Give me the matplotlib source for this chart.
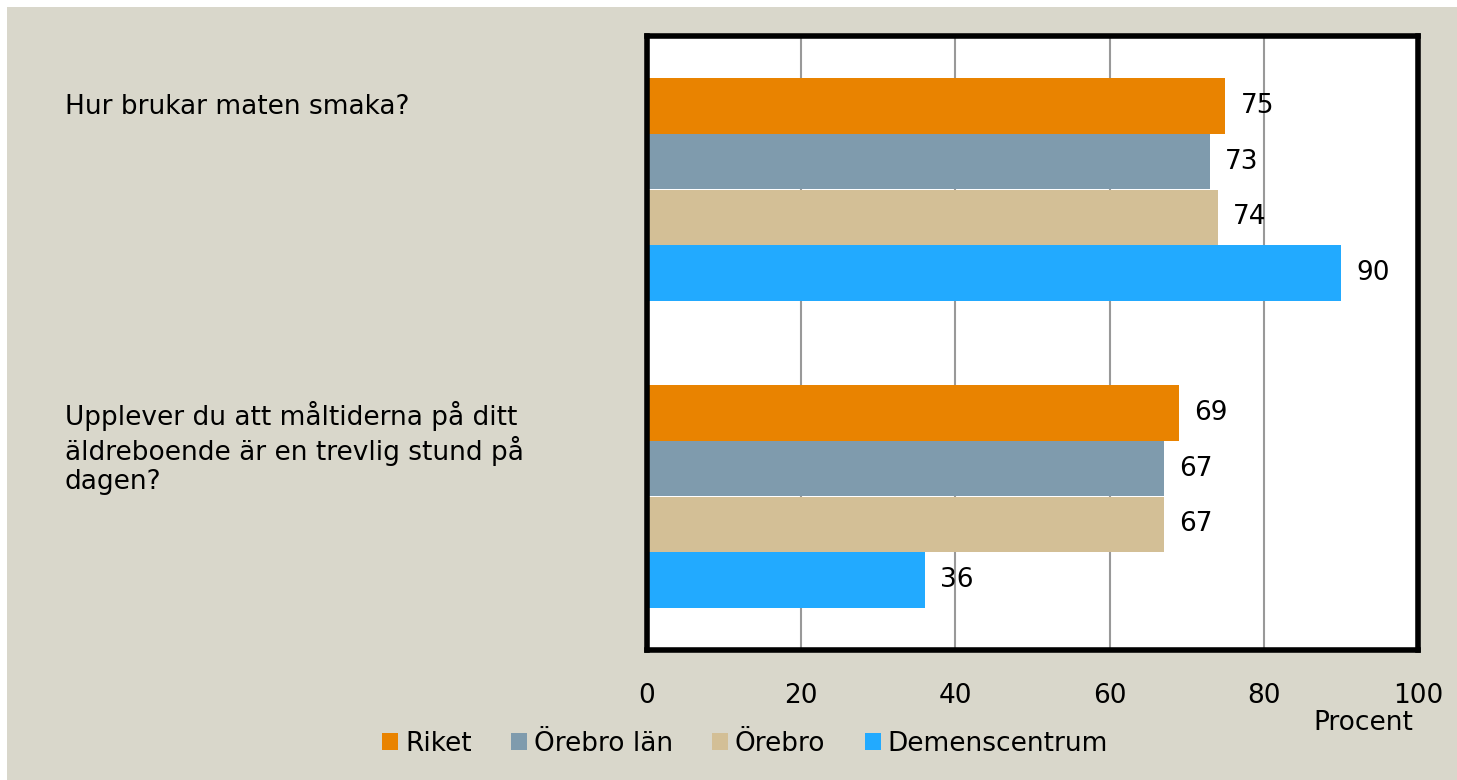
import matplotlib
matplotlib.use("Agg")
import matplotlib.pyplot as plt
import matplotlib.transforms as mtransforms
from matplotlib.patches import Rectangle
import numpy as np

plt.rcParams.update({
    "font.family": ["DejaVu Sans"],
    "font.size": 19,
})

# ── Data ──────────────────────────────────────────────────────────────────────
questions = [
    "Hur brukar maten smaka?",
    "Upplever du att måltiderna på ditt\näldreboende är en trevlig stund på\ndagen?",
]
series_names = ["Riket", "Örebro län", "Örebro", "Demenscentrum"]
riket = [75, 69]
orebro_lan = [73, 67]
orebro = [74, 67]
demenscentrum = [90, 36]
colors = ["#E98300", "#7F9BAD", "#D3BF96", "#22AAFF"]
x_ticks = [0, 20, 40, 60, 80, 100]

BG = "#D9D7CB"
FS = 19

fig = plt.figure(figsize=(14.57, 7.80), dpi=100, facecolor="white")
fig.patches.append(Rectangle((7 / 1457, 0), 1 - 7 / 1457, 1 - 7 / 780,
                             transform=fig.transFigure, facecolor=BG,
                             edgecolor="none", zorder=-10))

ax = fig.add_axes([647 / 1457, 1 - 650 / 780, (1418 - 647) / 1457, (650 - 36) / 780])
ax.set_facecolor("white")

h = 0.182
ypos = np.arange(len(questions))
all_series = [riket, orebro_lan, orebro, demenscentrum]
for k, (vals, name, col) in enumerate(zip(all_series, series_names, colors)):
    y = ypos + (k - 1.5) * h
    ax.barh(y, vals, height=h, color=col, label=name, zorder=2)
    for yy, v in zip(y, vals):
        ax.text(v + 2.0, yy, f"{v}", va="center", ha="left", fontsize=FS, zorder=3)

ax.set_xlim(0, 100)
ax.set_ylim(1.5, -0.5)
ax.set_xticks(x_ticks)
ax.set_xticklabels([str(t) for t in x_ticks])
ax.set_yticks([])
ax.tick_params(axis="x", length=0, pad=24, labelsize=FS)
ax.xaxis.grid(True, color="#999999", lw=1.5, zorder=0)
for sp in ax.spines.values():
    sp.set_linewidth(4)
    sp.set_color("black")

# category labels on the left, top-aligned to each group
trans = mtransforms.blended_transform_factory(fig.transFigure, ax.transData)
for i, q in enumerate(questions):
    ax.text(65 / 1457, i - 0.31, q, transform=trans, ha="left", va="top",
            fontsize=FS, linespacing=1.17)

fig.text(1413 / 1457, 1 - 723 / 780, "Procent", ha="right", va="center", fontsize=FS)

fig.legend(loc="center", bbox_to_anchor=(745 / 1457, 1 - 744 / 780), ncol=4,
           frameon=False, fontsize=FS, handlelength=0.6, handleheight=0.6,
           handletextpad=0.25, columnspacing=1.5)

fig.savefig("out.png", dpi=100, facecolor=fig.get_facecolor())
